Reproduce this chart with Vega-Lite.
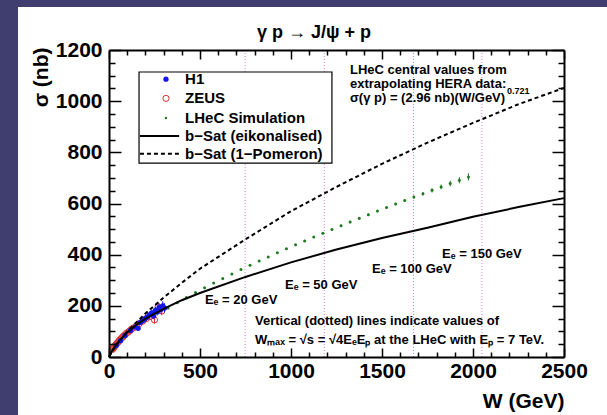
{
  "$schema": "https://vega.github.io/schema/vega-lite/v6.json",
  "width": 455,
  "height": 307,
  "autosize": {"type": "none"},
  "padding": {"left": 109, "top": 50, "right": 43, "bottom": 58},
  "background": "#403e6e",
  "config": {"view": {"stroke": null}, "font": "Liberation Sans"},
  "resolve": {"axis": {"x": "independent", "y": "independent"}},
  "data": {"values": [{"one": 1}]},
  "datasets": {
    "vlines": [{"W": 748, "Ee": 20}, {"W": 1183, "Ee": 50}, {"W": 1673, "Ee": 100}, {"W": 2049, "Ee": 150}],
    "eik": [
      {"W": 0, "sigma": 0}, {"W": 20, "sigma": 28}, {"W": 50, "sigma": 58}, {"W": 100, "sigma": 96}, {"W": 150, "sigma": 125},
      {"W": 200, "sigma": 150}, {"W": 300, "sigma": 188}, {"W": 400, "sigma": 222}, {"W": 500, "sigma": 250}, {"W": 750, "sigma": 313},
      {"W": 1000, "sigma": 370}, {"W": 1250, "sigma": 420}, {"W": 1500, "sigma": 465}, {"W": 1750, "sigma": 505}, {"W": 2000, "sigma": 548},
      {"W": 2250, "sigma": 586}, {"W": 2500, "sigma": 621}
    ],
    "pom": [
      {"W": 0, "sigma": 0}, {"W": 20, "sigma": 25}, {"W": 50, "sigma": 55}, {"W": 100, "sigma": 100}, {"W": 150, "sigma": 135},
      {"W": 200, "sigma": 170}, {"W": 300, "sigma": 232}, {"W": 400, "sigma": 290}, {"W": 500, "sigma": 345}, {"W": 750, "sigma": 460},
      {"W": 1000, "sigma": 570}, {"W": 1250, "sigma": 665}, {"W": 1500, "sigma": 755}, {"W": 1750, "sigma": 838}, {"W": 2000, "sigma": 915},
      {"W": 2250, "sigma": 988}, {"W": 2500, "sigma": 1052}
    ],
    "lhec": [
      {"W": 325, "sigma": 191.6, "lo": 190, "hi": 193}, {"W": 375, "sigma": 212.4, "lo": 211, "hi": 214}, {"W": 425, "sigma": 232.5, "lo": 231, "hi": 234},
      {"W": 475, "sigma": 251.9, "lo": 250, "hi": 254}, {"W": 525, "sigma": 270.7, "lo": 269, "hi": 273}, {"W": 575, "sigma": 289.1, "lo": 287, "hi": 291},
      {"W": 625, "sigma": 307.0, "lo": 305, "hi": 309}, {"W": 675, "sigma": 324.5, "lo": 322, "hi": 327}, {"W": 725, "sigma": 341.7, "lo": 339, "hi": 344},
      {"W": 775, "sigma": 358.5, "lo": 356, "hi": 361}, {"W": 825, "sigma": 375.0, "lo": 372, "hi": 378}, {"W": 875, "sigma": 391.3, "lo": 388, "hi": 394},
      {"W": 925, "sigma": 407.3, "lo": 404, "hi": 410}, {"W": 975, "sigma": 423.0, "lo": 420, "hi": 426}, {"W": 1025, "sigma": 438.6, "lo": 435, "hi": 442},
      {"W": 1075, "sigma": 453.9, "lo": 450, "hi": 458}, {"W": 1125, "sigma": 469.1, "lo": 465, "hi": 473}, {"W": 1175, "sigma": 484.0, "lo": 480, "hi": 488},
      {"W": 1225, "sigma": 498.8, "lo": 495, "hi": 503}, {"W": 1275, "sigma": 513.4, "lo": 509, "hi": 518}, {"W": 1325, "sigma": 527.8, "lo": 523, "hi": 533},
      {"W": 1375, "sigma": 542.0, "lo": 537, "hi": 547}, {"W": 1425, "sigma": 556.2, "lo": 551, "hi": 561}, {"W": 1475, "sigma": 570.2, "lo": 566, "hi": 574},
      {"W": 1525, "sigma": 584.1, "lo": 580, "hi": 588}, {"W": 1575, "sigma": 597.8, "lo": 593, "hi": 603}, {"W": 1625, "sigma": 611.5, "lo": 606, "hi": 617},
      {"W": 1675, "sigma": 625.0, "lo": 619, "hi": 631}, {"W": 1725, "sigma": 638.3, "lo": 631, "hi": 645}, {"W": 1775, "sigma": 651.5, "lo": 643, "hi": 660},
      {"W": 1825, "sigma": 664.7, "lo": 656, "hi": 674}, {"W": 1875, "sigma": 677.8, "lo": 667, "hi": 689}, {"W": 1925, "sigma": 690.8, "lo": 679, "hi": 703},
      {"W": 1975, "sigma": 703.7, "lo": 690, "hi": 718}
    ],
    "zeus": [
      {"W": 20, "sigma": 30, "lo": 26, "hi": 34}, {"W": 24, "sigma": 34, "lo": 30, "hi": 38}, {"W": 28, "sigma": 38, "lo": 34, "hi": 42},
      {"W": 32, "sigma": 43, "lo": 39, "hi": 47}, {"W": 36, "sigma": 47, "lo": 43, "hi": 51}, {"W": 40, "sigma": 50, "lo": 46, "hi": 54},
      {"W": 45, "sigma": 55, "lo": 50, "hi": 60}, {"W": 50, "sigma": 58, "lo": 53, "hi": 63}, {"W": 55, "sigma": 63, "lo": 58, "hi": 68},
      {"W": 60, "sigma": 67, "lo": 62, "hi": 72}, {"W": 65, "sigma": 70, "lo": 65, "hi": 75}, {"W": 70, "sigma": 74, "lo": 69, "hi": 79},
      {"W": 75, "sigma": 78, "lo": 72, "hi": 84}, {"W": 80, "sigma": 82, "lo": 76, "hi": 88}, {"W": 87, "sigma": 86, "lo": 80, "hi": 92},
      {"W": 95, "sigma": 92, "lo": 85, "hi": 99}, {"W": 105, "sigma": 97, "lo": 90, "hi": 104}, {"W": 115, "sigma": 103, "lo": 95, "hi": 111},
      {"W": 125, "sigma": 110, "lo": 102, "hi": 118}, {"W": 135, "sigma": 114, "lo": 105, "hi": 123}, {"W": 150, "sigma": 122, "lo": 112, "hi": 132},
      {"W": 165, "sigma": 130, "lo": 119, "hi": 141}, {"W": 185, "sigma": 140, "lo": 128, "hi": 152}, {"W": 205, "sigma": 150, "lo": 137, "hi": 163},
      {"W": 225, "sigma": 158, "lo": 144, "hi": 172}, {"W": 250, "sigma": 145, "lo": 131, "hi": 159}, {"W": 270, "sigma": 196, "lo": 178, "hi": 214},
      {"W": 290, "sigma": 180, "lo": 163, "hi": 197}
    ],
    "h1": [
      {"W": 40, "sigma": 45, "lo": 42, "hi": 48}, {"W": 63, "sigma": 64, "lo": 60, "hi": 68}, {"W": 88, "sigma": 84, "lo": 79, "hi": 89},
      {"W": 118, "sigma": 104, "lo": 97, "hi": 111}, {"W": 145, "sigma": 118, "lo": 110, "hi": 126}, {"W": 160, "sigma": 112, "lo": 104, "hi": 120},
      {"W": 172, "sigma": 135, "lo": 126, "hi": 144}, {"W": 185, "sigma": 142, "lo": 132, "hi": 152}, {"W": 198, "sigma": 150, "lo": 139, "hi": 161},
      {"W": 210, "sigma": 156, "lo": 145, "hi": 167}, {"W": 222, "sigma": 165, "lo": 153, "hi": 177}, {"W": 235, "sigma": 172, "lo": 159, "hi": 185},
      {"W": 245, "sigma": 160, "lo": 148, "hi": 172}, {"W": 255, "sigma": 182, "lo": 168, "hi": 196}, {"W": 265, "sigma": 176, "lo": 162, "hi": 190},
      {"W": 275, "sigma": 194, "lo": 178, "hi": 210}, {"W": 285, "sigma": 186, "lo": 170, "hi": 202}, {"W": 295, "sigma": 200, "lo": 182, "hi": 218},
      {"W": 305, "sigma": 192, "lo": 174, "hi": 210}
    ]
  },
  "layer": [
    {
      "mark": {"type": "rect", "fill": "white"},
      "encoding": {
        "x": {"datum": -500, "type": "quantitative", "scale": {"domain": [0, 2500], "nice": false, "zero": false}, "axis": null},
        "x2": {"datum": 2800},
        "y": {"datum": -300, "type": "quantitative", "scale": {"domain": [0, 1200], "nice": false, "zero": false}, "axis": null},
        "y2": {"datum": 1368}
      }
    },
    {
      "data": {"name": "vlines"},
      "mark": {"type": "rule", "color": "#e07be0", "strokeWidth": 1, "strokeDash": [1, 2]},
      "encoding": {
        "x": {"field": "W", "type": "quantitative", "scale": {"domain": [0, 2500], "nice": false, "zero": false}, "axis": null}
      }
    },
    {
      "data": {"name": "lhec"},
      "mark": {"type": "rule", "color": "#1d7a1d", "strokeWidth": 1},
      "encoding": {
        "x": {"field": "W", "type": "quantitative", "scale": {"domain": [0, 2500], "nice": false, "zero": false},
          "axis": {"orient": "bottom", "values": [100, 200, 300, 400, 600, 700, 800, 900, 1100, 1200, 1300, 1400, 1600, 1700, 1800, 1900, 2100, 2200, 2300, 2400], "labels": false, "ticks": true, "tickSize": -5, "tickWidth": 1.5, "tickColor": "black", "domain": false, "grid": false, "title": null, "zindex": 1}},
        "y": {"field": "lo", "type": "quantitative", "scale": {"domain": [0, 1200], "nice": false, "zero": false},
          "axis": {"orient": "left", "values": [50, 100, 150, 250, 300, 350, 450, 500, 550, 650, 700, 750, 850, 900, 950, 1050, 1100, 1150], "labels": false, "ticks": true, "tickSize": -6, "tickWidth": 1.5, "tickColor": "black", "domain": false, "grid": false, "title": null, "zindex": 1}},
        "y2": {"field": "hi"}
      }
    },
    {
      "data": {"name": "lhec"},
      "mark": {"type": "circle", "color": "#1d7a1d", "opacity": 1, "size": 9},
      "encoding": {
        "x": {"field": "W", "type": "quantitative", "scale": {"domain": [0, 2500], "nice": false, "zero": false},
          "axis": {"orient": "top", "values": [0, 500, 1000, 1500, 2000, 2500], "labels": false, "ticks": true, "tickSize": -9, "tickWidth": 1.5, "tickColor": "black", "domain": true, "domainColor": "black", "domainWidth": 2, "grid": false, "title": null, "zindex": 1}},
        "y": {"field": "sigma", "type": "quantitative", "scale": {"domain": [0, 1200], "nice": false, "zero": false},
          "axis": {"orient": "right", "values": [0, 200, 400, 600, 800, 1000, 1200], "labels": false, "ticks": true, "tickSize": -12, "tickWidth": 1.5, "tickColor": "black", "domain": true, "domainColor": "black", "domainWidth": 2, "grid": false, "title": null, "zindex": 1}}
      }
    },
    {
      "data": {"name": "zeus"},
      "mark": {"type": "rule", "color": "#e03030", "strokeWidth": 1},
      "encoding": {
        "x": {"field": "W", "type": "quantitative", "scale": {"domain": [0, 2500], "nice": false, "zero": false},
          "axis": {"orient": "top", "values": [100, 200, 300, 400, 600, 700, 800, 900, 1100, 1200, 1300, 1400, 1600, 1700, 1800, 1900, 2100, 2200, 2300, 2400], "labels": false, "ticks": true, "tickSize": -5, "tickWidth": 1.5, "tickColor": "black", "domain": false, "grid": false, "title": null, "zindex": 1}},
        "y": {"field": "lo", "type": "quantitative", "scale": {"domain": [0, 1200], "nice": false, "zero": false},
          "axis": {"orient": "right", "values": [50, 100, 150, 250, 300, 350, 450, 500, 550, 650, 700, 750, 850, 900, 950, 1050, 1100, 1150], "labels": false, "ticks": true, "tickSize": -6, "tickWidth": 1.5, "tickColor": "black", "domain": false, "grid": false, "title": null, "zindex": 1}},
        "y2": {"field": "hi"}
      }
    },
    {
      "data": {"name": "zeus"},
      "mark": {"type": "point", "shape": "circle", "filled": false, "color": "#e03030", "strokeWidth": 1, "size": 38, "opacity": 1},
      "encoding": {
        "x": {"field": "W", "type": "quantitative", "scale": {"domain": [0, 2500], "nice": false, "zero": false}, "axis": null},
        "y": {"field": "sigma", "type": "quantitative", "scale": {"domain": [0, 1200], "nice": false, "zero": false}, "axis": null}
      }
    },
    {
      "data": {"name": "h1"},
      "mark": {"type": "rule", "color": "#1515ee", "strokeWidth": 1},
      "encoding": {
        "x": {"field": "W", "type": "quantitative", "scale": {"domain": [0, 2500], "nice": false, "zero": false}, "axis": null},
        "y": {"field": "lo", "type": "quantitative", "scale": {"domain": [0, 1200], "nice": false, "zero": false}, "axis": null},
        "y2": {"field": "hi"}
      }
    },
    {
      "data": {"name": "h1"},
      "mark": {"type": "circle", "color": "#1515ee", "size": 28, "opacity": 1},
      "encoding": {
        "x": {"field": "W", "type": "quantitative", "scale": {"domain": [0, 2500], "nice": false, "zero": false}, "axis": null},
        "y": {"field": "sigma", "type": "quantitative", "scale": {"domain": [0, 1200], "nice": false, "zero": false}, "axis": null}
      }
    },
    {
      "data": {"name": "eik"},
      "mark": {"type": "line", "color": "black", "strokeWidth": 2},
      "encoding": {
        "x": {"field": "W", "type": "quantitative", "scale": {"domain": [0, 2500], "nice": false, "zero": false},
          "axis": {"orient": "bottom", "values": [0, 500, 1000, 1500, 2000, 2500], "ticks": false, "domain": true, "domainColor": "black", "domainWidth": 2,
            "labels": true, "labelFont": "Liberation Sans", "labelFontWeight": "bold", "labelFontSize": 21, "labelColor": "black", "labelPadding": 3,
            "labelFlush": false, "labelOverlap": false, "grid": false, "format": "d",
            "title": "W  (GeV)", "titleFont": "Liberation Sans", "titleFontWeight": "bold", "titleFontSize": 21, "titleColor": "black",
            "titleAnchor": "end", "titleAlign": "right", "titleBaseline": "alphabetic", "titleY": 50, "zindex": 1}},
        "y": {"field": "sigma", "type": "quantitative", "scale": {"domain": [0, 1200], "nice": false, "zero": false},
          "axis": {"orient": "left", "values": [0, 200, 400, 600, 800, 1000, 1200], "ticks": false, "domain": true, "domainColor": "black", "domainWidth": 2,
            "labels": true, "labelFont": "Liberation Sans", "labelFontWeight": "bold", "labelFontSize": 21, "labelColor": "black", "labelPadding": 7,
            "labelFlush": false, "labelOverlap": false, "grid": false, "format": "d",
            "title": "σ (nb)", "titleFont": "Liberation Sans", "titleFontWeight": "bold", "titleFontSize": 21, "titleColor": "black",
            "titleAnchor": "end", "titleAlign": "right", "titleBaseline": "middle", "titleX": -68, "titleY": -3, "zindex": 1}}
      }
    },
    {
      "data": {"name": "pom"},
      "mark": {"type": "line", "color": "black", "strokeWidth": 2, "strokeDash": [4, 3]},
      "encoding": {
        "x": {"field": "W", "type": "quantitative", "scale": {"domain": [0, 2500], "nice": false, "zero": false},
          "axis": {"orient": "bottom", "values": [0, 500, 1000, 1500, 2000, 2500], "labels": false, "ticks": true, "tickSize": -9, "tickWidth": 1.5, "tickColor": "black", "domain": false, "grid": false, "title": null, "zindex": 1}},
        "y": {"field": "sigma", "type": "quantitative", "scale": {"domain": [0, 1200], "nice": false, "zero": false},
          "axis": {"orient": "left", "values": [0, 200, 400, 600, 800, 1000, 1200], "labels": false, "ticks": true, "tickSize": -12, "tickWidth": 1.5, "tickColor": "black", "domain": false, "grid": false, "title": null, "zindex": 1}}
      }
    },
    {
      "mark": {"type": "rect", "fill": "white", "stroke": "black", "strokeWidth": 1.2},
      "encoding": {
        "x": {"datum": 165, "type": "quantitative", "axis": null}, "x2": {"datum": 1225},
        "y": {"datum": 758, "type": "quantitative", "axis": null}, "y2": {"datum": 1114}
      }
    },
    {
      "mark": {"type": "circle", "color": "#1515ee", "size": 28, "opacity": 1},
      "encoding": {"x": {"datum": 313, "type": "quantitative", "axis": null}, "y": {"datum": 1086, "type": "quantitative", "axis": null}}
    },
    {
      "mark": {"type": "point", "shape": "circle", "filled": false, "color": "#e03030", "strokeWidth": 1, "size": 38, "opacity": 1},
      "encoding": {"x": {"datum": 313, "type": "quantitative", "axis": null}, "y": {"datum": 1011, "type": "quantitative", "axis": null}}
    },
    {
      "mark": {"type": "circle", "color": "#1d7a1d", "size": 6, "opacity": 1},
      "encoding": {"x": {"datum": 313, "type": "quantitative", "axis": null}, "y": {"datum": 934, "type": "quantitative", "axis": null}}
    },
    {
      "mark": {"type": "rule", "color": "black", "strokeWidth": 2},
      "encoding": {"x": {"datum": 170, "type": "quantitative", "axis": null}, "x2": {"datum": 385}, "y": {"datum": 864, "type": "quantitative", "axis": null}}
    },
    {
      "mark": {"type": "rule", "color": "black", "strokeWidth": 2, "strokeDash": [4, 3]},
      "encoding": {"x": {"datum": 170, "type": "quantitative", "axis": null}, "x2": {"datum": 385}, "y": {"datum": 794, "type": "quantitative", "axis": null}}
    },
    {
      "mark": {"type": "text", "text": "H1", "align": "left", "baseline": "middle", "font": "Liberation Sans", "fontWeight": "bold", "fontSize": 15, "color": "black"},
      "encoding": {"x": {"datum": 418, "type": "quantitative", "axis": null}, "y": {"datum": 1086, "type": "quantitative", "axis": null}}
    },
    {
      "mark": {"type": "text", "text": "ZEUS", "align": "left", "baseline": "middle", "font": "Liberation Sans", "fontWeight": "bold", "fontSize": 15, "color": "black"},
      "encoding": {"x": {"datum": 418, "type": "quantitative", "axis": null}, "y": {"datum": 1011, "type": "quantitative", "axis": null}}
    },
    {
      "mark": {"type": "text", "text": "LHeC Simulation", "align": "left", "baseline": "middle", "font": "Liberation Sans", "fontWeight": "bold", "fontSize": 15, "color": "black"},
      "encoding": {"x": {"datum": 418, "type": "quantitative", "axis": null}, "y": {"datum": 934, "type": "quantitative", "axis": null}}
    },
    {
      "mark": {"type": "text", "text": "b−Sat (eikonalised)", "align": "left", "baseline": "middle", "font": "Liberation Sans", "fontWeight": "bold", "fontSize": 15, "color": "black"},
      "encoding": {"x": {"datum": 418, "type": "quantitative", "axis": null}, "y": {"datum": 864, "type": "quantitative", "axis": null}}
    },
    {
      "mark": {"type": "text", "text": "b−Sat (1−Pomeron)", "align": "left", "baseline": "middle", "font": "Liberation Sans", "fontWeight": "bold", "fontSize": 15, "color": "black"},
      "encoding": {"x": {"datum": 418, "type": "quantitative", "axis": null}, "y": {"datum": 794, "type": "quantitative", "axis": null}}
    },
    {
      "mark": {"type": "text", "text": "LHeC central values from", "align": "left", "baseline": "middle", "font": "Liberation Sans", "fontWeight": "bold", "fontSize": 13, "color": "black"},
      "encoding": {"x": {"datum": 1324, "type": "quantitative", "axis": null}, "y": {"datum": 1122, "type": "quantitative", "axis": null}}
    },
    {
      "mark": {"type": "text", "text": "extrapolating HERA data:", "align": "left", "baseline": "middle", "font": "Liberation Sans", "fontWeight": "bold", "fontSize": 13, "color": "black"},
      "encoding": {"x": {"datum": 1324, "type": "quantitative", "axis": null}, "y": {"datum": 1067, "type": "quantitative", "axis": null}}
    },
    {
      "mark": {"type": "text", "text": "σ(γ p) = (2.96 nb)(W/GeV)", "align": "left", "baseline": "middle", "font": "Liberation Sans", "fontWeight": "bold", "fontSize": 13, "color": "black"},
      "encoding": {"x": {"datum": 1324, "type": "quantitative", "axis": null}, "y": {"datum": 1012, "type": "quantitative", "axis": null}}
    },
    {
      "mark": {"type": "text", "text": "0.721", "align": "left", "baseline": "middle", "font": "Liberation Sans", "fontWeight": "bold", "fontSize": 9, "color": "black"},
      "encoding": {"x": {"datum": 2187, "type": "quantitative", "axis": null}, "y": {"datum": 1040, "type": "quantitative", "axis": null}}
    },
    {
      "mark": {"type": "text", "text": "Eₑ =  20 GeV", "align": "left", "baseline": "middle", "font": "Liberation Sans", "fontWeight": "bold", "fontSize": 13, "color": "black"},
      "encoding": {"x": {"datum": 527, "type": "quantitative", "axis": null}, "y": {"datum": 223, "type": "quantitative", "axis": null}}
    },
    {
      "mark": {"type": "text", "text": "Eₑ =  50 GeV", "align": "left", "baseline": "middle", "font": "Liberation Sans", "fontWeight": "bold", "fontSize": 13, "color": "black"},
      "encoding": {"x": {"datum": 967, "type": "quantitative", "axis": null}, "y": {"datum": 281, "type": "quantitative", "axis": null}}
    },
    {
      "mark": {"type": "text", "text": "Eₑ = 100 GeV", "align": "left", "baseline": "middle", "font": "Liberation Sans", "fontWeight": "bold", "fontSize": 13, "color": "black"},
      "encoding": {"x": {"datum": 1445, "type": "quantitative", "axis": null}, "y": {"datum": 344, "type": "quantitative", "axis": null}}
    },
    {
      "mark": {"type": "text", "text": "Eₑ = 150 GeV", "align": "left", "baseline": "middle", "font": "Liberation Sans", "fontWeight": "bold", "fontSize": 13, "color": "black"},
      "encoding": {"x": {"datum": 1830, "type": "quantitative", "axis": null}, "y": {"datum": 403, "type": "quantitative", "axis": null}}
    },
    {
      "mark": {"type": "text", "text": "Vertical (dotted) lines indicate values of", "align": "left", "baseline": "middle", "font": "Liberation Sans", "fontWeight": "bold", "fontSize": 13, "color": "black"},
      "encoding": {"x": {"datum": 802, "type": "quantitative", "axis": null}, "y": {"datum": 141, "type": "quantitative", "axis": null}}
    },
    {
      "mark": {"type": "text", "text": "Wₘₐₓ = √s = √4EₑEₚ at the LHeC with Eₚ = 7 TeV.", "align": "left", "baseline": "middle", "font": "Liberation Sans", "fontWeight": "bold", "fontSize": 13, "color": "black"},
      "encoding": {"x": {"datum": 802, "type": "quantitative", "axis": null}, "y": {"datum": 66, "type": "quantitative", "axis": null}}
    },
    {
      "mark": {"type": "text", "text": "γ p → J/ψ + p", "align": "center", "baseline": "alphabetic", "font": "Liberation Sans", "fontWeight": "bold", "fontSize": 18, "color": "black"},
      "encoding": {"x": {"datum": 1126, "type": "quantitative", "axis": null}, "y": {"datum": 1247, "type": "quantitative", "axis": null}}
    }
  ]
}
